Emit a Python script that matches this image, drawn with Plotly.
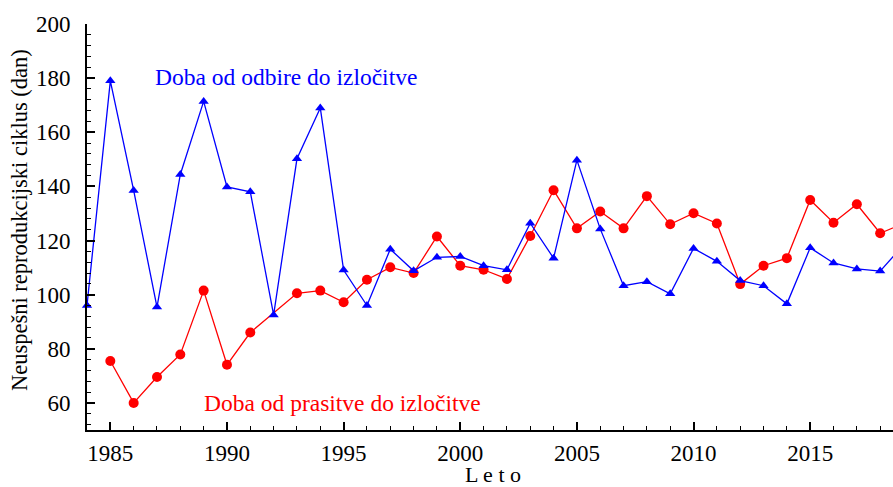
import plotly.graph_objects as go

years = list(range(1984, 2020))
odbira = [96, 179, 138.5, 95.4, 144.4, 171.4, 139.8, 138.0, 92.5, 150.2, 169.0, 109.1,
          96.0, 116.8, 108.8, 113.8, 114.1, 110.7, 109.2, 126.4, 113.5, 149.7, 124.3,
          103.3, 104.8, 100.3, 117.1, 112.3, 105.2, 103.3, 96.6, 117.3, 111.7, 109.5,
          108.7, 118.4]
prasitev = [None, 75.5, 60.0, 69.6, 77.9, 101.5, 74.1, 86.0, None, 100.5, 101.5, 97.2,
            105.5, 110.1, 108.0, 121.5, 110.7, 109.2, 105.8, 121.7, 138.6, 124.5, 130.7,
            124.5, 136.4, 126.0, 130.1, 126.3, 103.9, 110.7, 113.5, 135.0, 126.6, 133.4,
            122.7, 126.3]
x_ticks = [1985, 1990, 1995, 2000, 2005, 2010, 2015]
y_ticks = [60, 80, 100, 120, 140, 160, 180, 200]

FONT = "Liberation Serif"
fig = go.Figure()
fig.add_trace(go.Scatter(x=years, y=prasitev, mode="lines+markers", connectgaps=True,
                         line=dict(color="#ff0000", width=1.3),
                         marker=dict(symbol="circle", size=10, color="#ff0000"),
                         cliponaxis=False, showlegend=False))
fig.add_trace(go.Scatter(x=years, y=odbira, mode="lines+markers",
                         line=dict(color="#0000ff", width=1.3),
                         marker=dict(symbol="triangle-up", size=9, color="#0000ff"),
                         cliponaxis=False, showlegend=False))

fig.update_layout(
    width=893, height=487,
    margin=dict(l=87, r=0, t=24, b=57),
    plot_bgcolor="white", paper_bgcolor="white",
    font=dict(family=FONT, size=23, color="black"),
    xaxis=dict(range=[1984, 2018.55], tickvals=x_ticks, ticks="inside", ticklen=8,
               tickwidth=1.5, tickcolor="black", showline=True, linecolor="black",
               linewidth=2, showgrid=False, zeroline=False, ticklabelstandoff=1,
               automargin=False, tickfont=dict(family=FONT, size=23),
               minor=dict(dtick=1, ticks="inside", ticklen=4, tickwidth=1.2,
                          tickcolor="black", showgrid=False)),
    yaxis=dict(range=[50, 200], tickvals=y_ticks, ticks="inside", ticklen=8,
               tickwidth=1.5, tickcolor="black", showline=True, linecolor="black",
               linewidth=2, showgrid=False, zeroline=False, ticklabelstandoff=10,
               automargin=False, tickfont=dict(family=FONT, size=23),
               minor=dict(dtick=4, tick0=0, ticks="inside", ticklen=4, tickwidth=1.2,
                          tickcolor="black", showgrid=False)),
)

fig.add_annotation(x=1992.54, y=180.5, xref="x", yref="y", text="Doba od odbire do izločitve",
                   showarrow=False, font=dict(family=FONT, size=23.5, color="#0000ff"),
                   xanchor="center", yanchor="middle")
fig.add_annotation(x=1994.94, y=59.8, xref="x", yref="y", text="Doba od prasitve do izločitve",
                   showarrow=False, font=dict(family=FONT, size=23.5, color="#ff0000"),
                   xanchor="center", yanchor="middle")

# axis titles placed in pixel space via paper coordinates
pw, ph = 893 - 87, 487 - 24 - 57
def px_to_paper(px, py):
    return (px - 87) / pw, (487 - 57 - py) / ph

ax, ay = px_to_paper(493, 475)
yx, yy = px_to_paper(19, 220)
fig.add_annotation(x=ax, y=ay, xref="paper", yref="paper", text="L e t o",
                   showarrow=False, font=dict(family=FONT, size=22, color="black"),
                   xanchor="center", yanchor="middle")
fig.add_annotation(x=yx, y=yy, xref="paper", yref="paper",
                   text="Neuspešni reprodukcijski ciklus (dan)", textangle=-90,
                   showarrow=False, font=dict(family=FONT, size=22.5, color="black"),
                   xanchor="center", yanchor="middle")
fig.write_html("out.html", config={"displayModeBar": False},
               post_script="document.body.style.margin='0';document.body.style.overflow='hidden';")
